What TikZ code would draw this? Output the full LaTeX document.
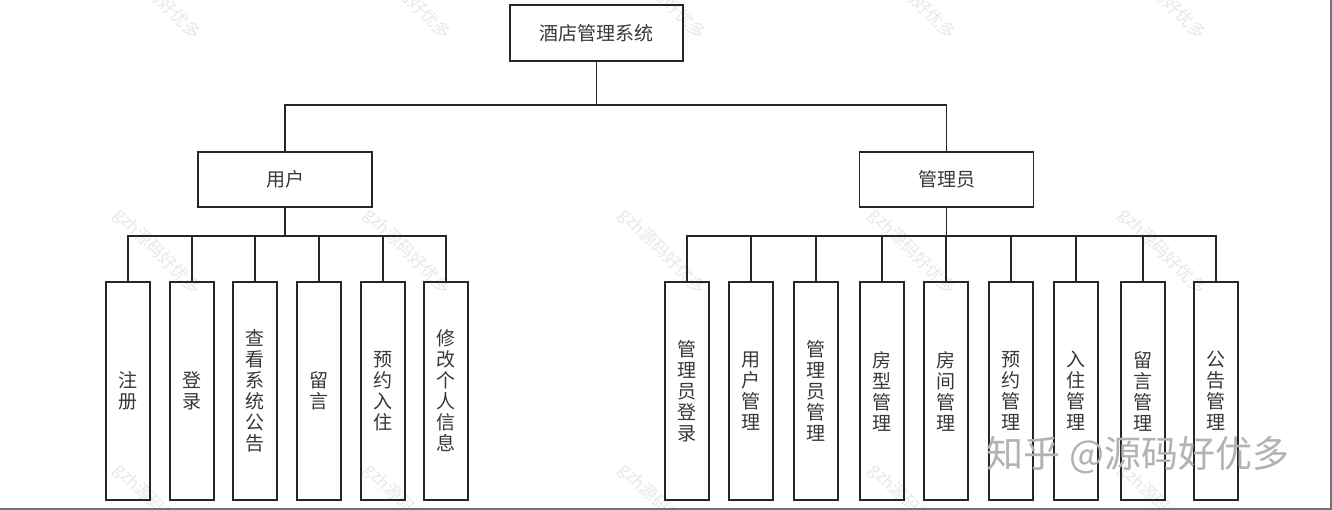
\documentclass[tikz,border=0pt]{standalone}
\usepackage{fontspec}
\setmainfont{Noto Sans CJK SC}
\newfontfamily\cjk{Noto Sans CJK SC}
\begin{document}
\begin{tikzpicture}[x=1pt,y=-1pt,
  box/.style={draw=black!85,line width=1.1pt,inner sep=0pt,outer sep=0pt,
    text=black!78,font=\cjk\fontsize{19}{21}\selectfont},
  topbox/.style={box,minimum width=173pt,minimum height=56pt},
  midbox/.style={box,minimum width=174pt,minimum height=55pt},
  leaf/.style={box,minimum width=44pt,minimum height=218pt,align=center,text width=20pt},
  link/.style={draw=black!85,line width=1.1pt},
  wm/.style={text=black!9,font=\cjk\fontsize{17}{17}\selectfont,rotate=-45},
  zh/.style={text=black!30,font=\cjk\fontsize{37}{37}\selectfont}
]
\useasboundingbox (0,0) rectangle (1332,510);
\fill[white] (0,0) rectangle (1332,510);

% faint diagonal watermarks
\begin{scope}
\clip (0,0) rectangle (1332,510);
\foreach \xx in {157,407,662,912,1162}{
  \foreach \yy in {-3,252,507}{
    \node[wm] at (\xx,\yy) {gzh源码好优多};
  }
}
\end{scope}

% nodes
\node[topbox] (root) at (596.5,33) {酒店管理系统};
\node[midbox] (user) at (285,179.5) {用户};
\node[midbox] (admin) at (946.5,179.5) {管理员};

\node[leaf] (u1) at (128,391) {注\\册};
\node[leaf] (u2) at (192,391) {登\\录};
\node[leaf] (u3) at (255,391) {查\\看\\系\\统\\公\\告};
\node[leaf] (u4) at (319,391) {留\\言};
\node[leaf] (u5) at (383,391) {预\\约\\入\\住};
\node[leaf] (u6) at (446,391) {修\\改\\个\\人\\信\\息};

\node[leaf] (a1) at (687,391) {管\\理\\员\\登\\录};
\node[leaf] (a2) at (751,391) {用\\户\\管\\理};
\node[leaf] (a3) at (816,391) {管\\理\\员\\管\\理};
\node[leaf] (a4) at (882,391) {房\\型\\管\\理};
\node[leaf] (a5) at (946,391) {房\\间\\管\\理};
\node[leaf] (a6) at (1011,391) {预\\约\\管\\理};
\node[leaf] (a7) at (1076,391) {入\\住\\管\\理};
\node[leaf] (a8) at (1143,391) {留\\言\\管\\理};
\node[leaf] (a9) at (1216,391) {公\\告\\管\\理};

% connectors
\foreach \c in {user,admin}{
  \draw[link] (root.south) -- ++(0,44) -| (\c.north);
}
\foreach \c in {u1,u2,u3,u4,u5,u6}{
  \draw[link] (user.south) -- ++(0,29) -| (\c.north);
}
\foreach \c in {a1,a2,a3,a4,a5,a6,a7,a8,a9}{
  \draw[link] (admin.south) -- ++(0,29) -| (\c.north);
}

% zhihu watermark
\node[zh] (zhw) at (1138,455) {知乎 @源码好优多};

% image frame edges
\coordinate (fr1) at (0,508.5);
\coordinate (fr2) at (1330.5,508.5);
\coordinate (fr3) at (1330.5,0);
\draw[black!55,line width=2pt] (fr1) -- (fr2) -- (fr3);
\end{tikzpicture}
\end{document}
